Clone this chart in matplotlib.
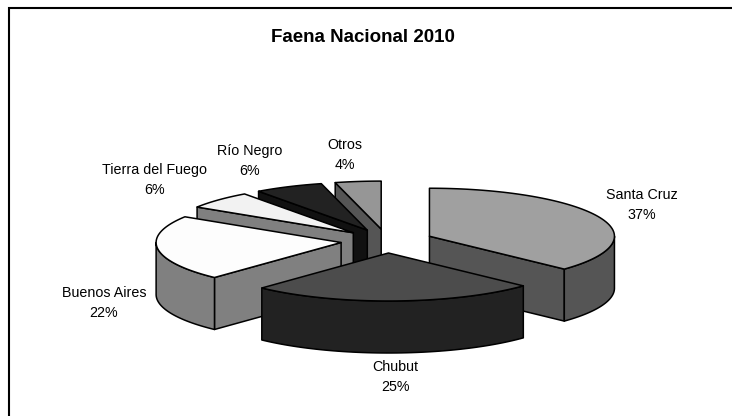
import numpy as np
from matplotlib import pyplot as plt
from matplotlib.patches import Polygon

#data
provinces = ['Santa Cruz','Chubut','Buenos Aires','Tierra del Fuego','Río Negro','Otros']
shares = [37,25,22,6,6,4]
title = 'Faena Nacional 2010'

#colors for every slice
top_colors = ['#a0a0a0','#4c4c4c','#fdfdfd','#f2f2f2','#222222','#969696']
side_colors = ['#555555','#222222','#808080','#808080','#111111','#555555']

#pie geometry in pixels
cx, cy = 387, 241
rx, ry = 185, 48
depth = 52
explode = 0.25
label_pos = [(642,205),(395,377),(104,303),(155,180),(250,161),(345,155)]

plt.rcParams['font.family'] = ['Liberation Sans','DejaVu Sans']
fig = plt.figure(figsize=(7.32,4.16),dpi=100)
ax = fig.add_axes([0,0,1,1])
ax.set_xlim(0,732)
ax.set_ylim(416,0)
ax.axis('off')


def rim(apex,a):
    # point on the top ellipse, angle clockwise from 12 o'clock
    return apex[0]+rx*np.sin(a), apex[1]-ry*np.cos(a)


def face(points,color,z):
    ax.add_patch(Polygon(points,closed=True,facecolor=color,edgecolor='black',lw=1.1,joinstyle='round',zorder=z))


def wall(apex,a,color,z):
    x,y = rim(apex,a)
    face([apex,(x,y),(x,y+depth),(apex[0],apex[1]+depth)],color,z)


fractions = np.array(shares)/sum(shares)
ends = np.cumsum(fractions)*2*np.pi
starts = ends-fractions*2*np.pi
mids = (starts+ends)/2

# back slices first, front ones paint over them
order = np.argsort(-np.cos(mids))
for n,i in enumerate(order):
    z = 2+n*0.1
    apex = (cx+explode*rx*np.sin(mids[i]),cy-explode*ry*np.cos(mids[i]))
    a0,a1 = starts[i],ends[i]
    if np.sin(a0)<0:
        wall(apex,a0,side_colors[i],z)
    if np.sin(a1)>0:
        wall(apex,a1,side_colors[i],z)
    # outer wall is only seen on the front half of the ellipse
    f0,f1 = max(a0,np.pi/2),min(a1,1.5*np.pi)
    if f1>f0:
        t = np.linspace(f0,f1,60)
        xs,ys = rim(apex,t)
        front = list(zip(xs,ys))+list(zip(xs[::-1],ys[::-1]+depth))
        face(front,side_colors[i],z)
    t = np.linspace(a0,a1,80)
    xs,ys = rim(apex,t)
    face([apex]+list(zip(xs,ys)),top_colors[i],z)

for name,share,pos in zip(provinces,shares,label_pos):
    ax.text(pos[0],pos[1],f'{name}\n{share}%',ha='center',va='center',fontsize=10.3,linespacing=1.62,color='black',zorder=5)

ax.text(363,38,title,ha='center',va='center',fontsize=13.5,fontweight='bold',color='black')

# chart border, only top and left are inside the crop
ax.plot([9,9,732],[416,8,8],color='black',lw=1.5,solid_joinstyle='miter',zorder=6)

fig.savefig('out.png',dpi=100)
